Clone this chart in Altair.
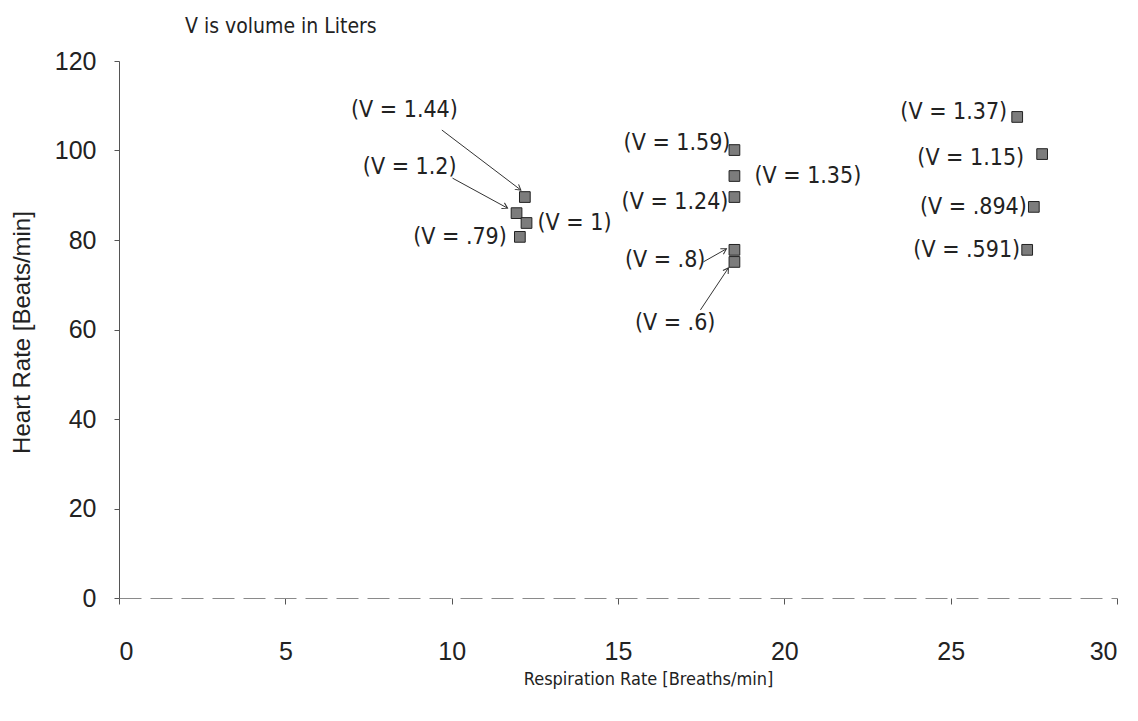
import math

import altair as alt
import pandas as pd

# Respiration rate [breaths/min], heart rate [beats/min] and tidal volume labels
resp = [12.2, 11.95, 12.25, 12.05, 18.5, 18.5, 18.5, 18.5, 18.5, 27.0, 27.75, 27.5, 27.3]
heart = [89.6, 86.0, 83.8, 80.7, 100.1, 94.3, 89.6, 77.8, 75.1, 107.5, 99.2, 87.4, 77.8]
labels = [
    "(V = 1.44)", "(V = 1.2)", "(V = 1)", "(V = .79)",
    "(V = 1.59)", "(V = 1.35)", "(V = 1.24)", "(V = .8)", "(V = .6)",
    "(V = 1.37)", "(V = 1.15)", "(V = .894)", "(V = .591)",
]

x_ticks = [0, 5, 10, 15, 20, 25, 30]
y_ticks = [0, 20, 40, 60, 80, 100, 120]

# Plot-area size and the pixels-per-unit it gives each scale
W, H = 998, 537
X_MAX, Y_MAX = 30, 120
PX_X = W / X_MAX
PX_Y = H / Y_MAX

# Label placement: pixel offset from each point and text alignment
label_dx = [-67, -60, 11, -13, -4, 20, -6, -29, -19, -10, -18, -7, -7]
label_dy = [-87, -46, 0, 0, -7, 0, 5, 10, 61, -5, 4, 0, 0]
label_align = ["right", "right", "left", "right", "right", "left", "right",
               "right", "right", "right", "right", "right", "right"]

# Leader arrows: point index, tail offset and tip offset in pixels
arrow_idx = [0, 1, 7, 8]
arrow_tail = [(-83, -67), (-64, -35), (-31, 12), (-34, 48)]
arrow_tip = [(-4, -7), (-9, -5), (-8, -1), (-6, 6)]

NARROW = "Liberation Sans Narrow, DejaVu Sans Condensed, Arial Narrow, sans-serif"
REGULAR = "Liberation Sans, Arial, sans-serif"
INK = "#222222"

pts = pd.DataFrame({
    "resp": resp,
    "heart": heart,
    "label": labels,
    "align": label_align,
})
pts["lx"] = [r + dx / PX_X for r, dx in zip(resp, label_dx)]
pts["ly"] = [h - dy / PX_Y for h, dy in zip(heart, label_dy)]

arrows = pd.DataFrame({
    "x1": [resp[i] + t[0] / PX_X for i, t in zip(arrow_idx, arrow_tail)],
    "y1": [heart[i] - t[1] / PX_Y for i, t in zip(arrow_idx, arrow_tail)],
    "x2": [resp[i] + p[0] / PX_X for i, p in zip(arrow_idx, arrow_tip)],
    "y2": [heart[i] - p[1] / PX_Y for i, p in zip(arrow_idx, arrow_tip)],
    "angle": [
        math.degrees(math.atan2(p[1] - t[1], p[0] - t[0])) % 360
        for t, p in zip(arrow_tail, arrow_tip)
    ],
})

xs = alt.Scale(domain=[0, X_MAX], nice=False, zero=True)
ys = alt.Scale(domain=[0, Y_MAX], nice=False, zero=True)

x_axis = alt.Axis(
    values=x_ticks, title="Respiration Rate [Breaths/min]", grid=False,
    labelFont=REGULAR, labelFontSize=25, labelColor=INK, labelPadding=35,
    tickSize=6, tickColor="#555555", domainColor="#8a8a8a", domainDash=[22, 9],
    titleFont=NARROW, titleFontSize=18, titleFontWeight="normal", titleColor=INK,
    titleX=529, titleY=81, titleBaseline="middle", titleAlign="center",
)
y_axis = alt.Axis(
    values=y_ticks, title="Heart Rate [Beats/min]", grid=False,
    labelFont=REGULAR, labelFontSize=25, labelColor=INK, labelPadding=18,
    tickSize=5, tickColor="#555555", domainColor="#555555",
    titleFont=REGULAR, titleFontSize=24, titleFontWeight="normal", titleColor=INK,
    titleX=-97, titleY=271, titleAngle=270, titleBaseline="middle", titleAlign="center",
)

markers = alt.Chart(pts).mark_square(
    size=115, fill="#7c7c7c", stroke="#222222", strokeWidth=1, opacity=1
).encode(
    x=alt.X("resp:Q", scale=xs, axis=x_axis),
    y=alt.Y("heart:Q", scale=ys, axis=y_axis),
)


def label_layer(align):
    return alt.Chart(pts).transform_filter(
        alt.datum.align == align
    ).mark_text(
        align=align, baseline="middle", font=NARROW, fontSize=23, color=INK
    ).encode(
        x=alt.X("lx:Q", scale=xs, axis=x_axis),
        y=alt.Y("ly:Q", scale=ys, axis=y_axis),
        text="label:N",
    )


leaders = alt.Chart(arrows).mark_rule(color="#333333", strokeWidth=1).encode(
    x=alt.X("x1:Q", scale=xs, axis=x_axis),
    y=alt.Y("y1:Q", scale=ys, axis=y_axis),
    x2="x2:Q",
    y2="y2:Q",
)

heads = alt.Chart(arrows).mark_point(
    shape="M-1,-0.6L0,0L-1,0.6", filled=False, size=110,
    stroke="#333333", strokeWidth=1, opacity=1
).encode(
    x=alt.X("x2:Q", scale=xs, axis=x_axis),
    y=alt.Y("y2:Q", scale=ys, axis=y_axis),
    angle=alt.Angle("angle:Q", scale=None),
)

chart = alt.layer(
    leaders, heads, markers, label_layer("right"), label_layer("left")
).properties(
    width=W,
    height=H,
    background="white",
    title=alt.Title(
        "V is volume in Liters", anchor="start", frame="group", dx=66, offset=12,
        font=NARROW, fontSize=21, fontWeight="normal", color=INK,
    ),
    autosize=alt.AutoSizeParams(type="none"),
    padding={"left": 119, "top": 61, "right": 21, "bottom": 123},
).configure_view(
    stroke=None
)

chart.save("out.html", embed_options={"renderer": "svg", "actions": False})
